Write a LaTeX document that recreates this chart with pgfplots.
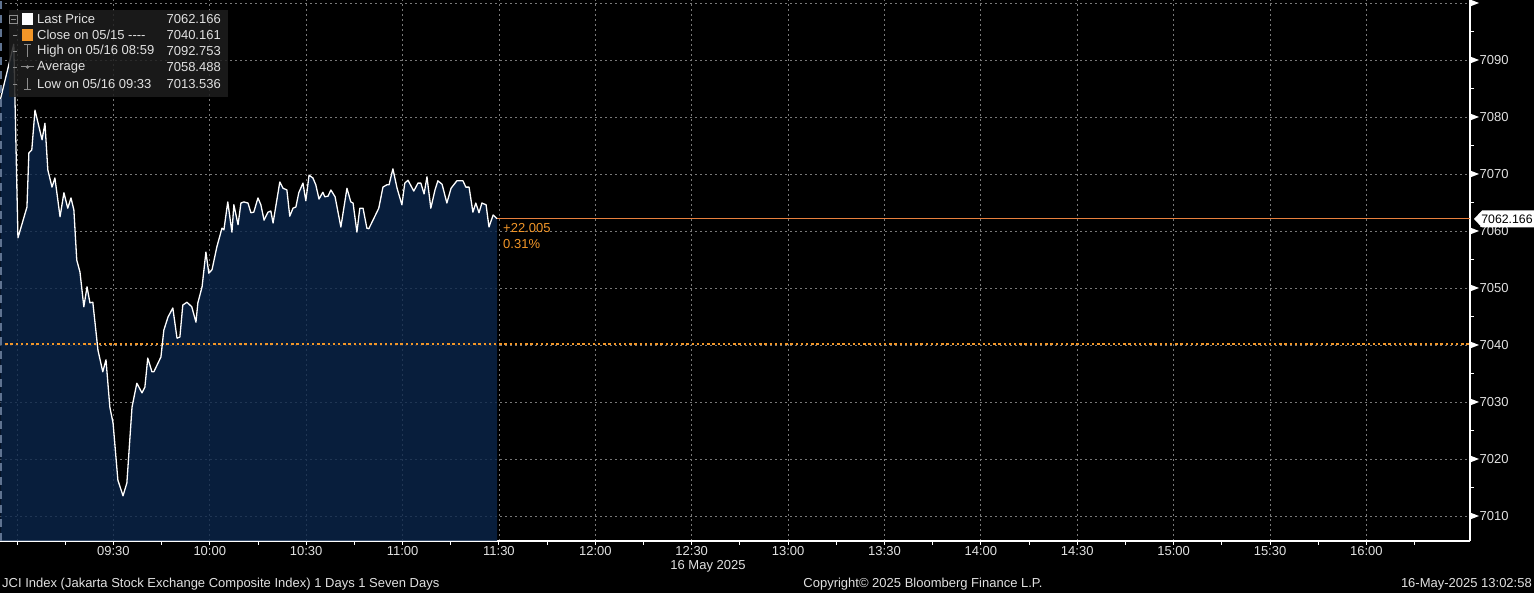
\documentclass[border=0pt]{standalone}
\usepackage{pgfplots}
\pgfplotsset{compat=1.18}
\usepackage{pgfplotstable}
\usepackage{fontspec}
\setmainfont{Liberation Sans}

\definecolor{areanavy}{RGB}{11,38,75}
\definecolor{gridgrey}{RGB}{120,120,120}
\definecolor{closeorange}{RGB}{242,150,40}
\definecolor{lastorange}{RGB}{232,128,62}
\definecolor{legbg}{RGB}{30,30,30}
\definecolor{lightgrey}{RGB}{225,225,225}
\definecolor{icongrey}{RGB}{140,140,140}

% minutes after 09:00, index level
\pgfplotstableread{
t p
-5.2 7083.0
-1.0 7092.75
0.3 7058.8
3.1 7064.2
3.7 7073.7
4.6 7074.2
5.6 7081.2
7.8 7076.0
8.7 7078.9
9.6 7070.7
10.9 7067.7
11.8 7069.3
13.4 7062.5
14.6 7066.7
15.8 7064.0
16.8 7065.8
17.7 7063.7
18.6 7054.9
19.6 7052.8
20.8 7046.7
21.8 7050.2
22.7 7047.4
23.6 7047.5
25.2 7039.1
26.7 7035.3
27.7 7037.4
28.9 7029.1
29.9 7026.3
31.4 7016.3
33.0 7013.54
34.2 7015.8
35.8 7029.1
37.3 7033.3
38.9 7031.6
39.8 7032.6
40.7 7037.7
42.0 7035.3
42.6 7035.3
44.8 7037.9
45.7 7042.6
47.0 7044.9
48.5 7046.5
49.8 7041.2
50.7 7041.4
51.6 7047.0
52.9 7047.5
54.4 7046.7
55.7 7044.0
56.3 7047.4
57.6 7050.2
58.8 7056.3
59.7 7052.6
60.7 7053.2
62.2 7057.2
63.8 7060.5
64.4 7060.2
65.6 7065.1
66.9 7059.8
67.5 7064.6
68.8 7061.1
69.7 7064.9
70.6 7065.1
71.9 7064.9
72.8 7063.2
73.7 7063.3
75.0 7065.8
75.9 7064.6
76.9 7061.9
78.1 7063.3
79.0 7063.5
79.7 7061.4
81.8 7068.6
82.8 7067.5
84.0 7067.2
84.9 7062.6
85.9 7064.0
86.8 7064.2
87.7 7066.7
89.0 7068.4
89.9 7065.3
90.9 7069.8
92.1 7069.3
93.0 7068.1
94.0 7065.6
95.2 7066.8
95.8 7066.0
96.8 7066.1
97.7 7067.2
99.0 7066.0
100.8 7060.7
102.7 7067.5
103.9 7065.1
104.6 7064.9
105.8 7059.8
106.7 7064.0
107.7 7064.0
108.9 7060.5
109.5 7060.4
110.8 7061.9
112.6 7064.0
113.9 7067.7
115.1 7068.1
115.8 7068.1
117.0 7070.9
118.3 7067.5
119.8 7064.6
120.7 7068.4
121.7 7068.9
123.5 7067.0
124.8 7068.4
125.7 7068.4
126.7 7066.5
127.6 7069.5
128.8 7064.0
130.1 7067.2
131.0 7068.8
132.3 7068.2
133.8 7064.9
135.1 7067.5
136.9 7068.8
138.8 7068.8
139.7 7067.7
140.7 7067.7
141.9 7063.3
142.8 7064.9
143.8 7063.2
144.7 7064.9
146.0 7064.6
146.9 7060.7
148.2 7062.8
149.4 7062.166
}\jci

\begin{document}
\begin{tikzpicture}[font=\fontsize{13}{15}\selectfont]
\path[use as bounding box, fill=black] (0pt,-52pt) rectangle (1534pt,541pt);
\begin{axis}[
  at={(0pt,0pt)}, anchor=south west,
  scale only axis, width=1470pt, height=541pt,
  xmin=-5.29, xmax=452.25,
  ymin=7005.614, ymax=7100.526,
  axis x line*=bottom, axis y line*=right,
  axis line style={white, line width=1.3pt},
  xtick={0,30,...,420},
  minor xtick={15,45,...,435},
  xticklabels={,09:30,10:00,10:30,11:00,11:30,12:00,12:30,13:00,13:30,14:00,14:30,15:00,15:30,16:00},
  ytick={7010,7020,...,7100},
  minor ytick={7015,7025,...,7095},
  yticklabels={7010,7020,7030,7040,7050,7060,7070,7080,7090,{}},
  tick align=outside,
  major tick length=4pt, minor tick length=4pt,
  tick style={white, line width=0.9pt},
  xticklabel style={text=lightgrey, inner sep=0pt, yshift=-1.5pt},
  yticklabel style={text=lightgrey, xshift=2pt},
  grid=major,
  major grid style={gridgrey, dash pattern=on 2pt off 3pt, line width=0.8pt},
]
\addplot[draw=none, fill=areanavy, fill opacity=0.8] table[x=t, y=p] {\jci} \closedcycle;
\addplot[closeorange, line width=2.6pt, dash pattern=on 2.4pt off 2.8pt]
  coordinates {(-5.29,7040.161) (452.25,7040.161)};
\addplot[lastorange, line width=0.9pt] coordinates {(149.4,7062.166) (452.25,7062.166)};
\addplot[white, line width=1.3pt, line join=round] table[x=t, y=p] {\jci};
\end{axis}

% left edge marker
\draw[color={rgb,255:red,95;green,115;blue,145}, line width=1.6pt, dash pattern=on 8pt off 6pt] (1pt,0pt) -- (1pt,541pt);

% right axis arrows at major ticks
\foreach \k in {0,...,9}
  \fill[white] (1470pt,25pt+57pt*\k+3.5pt) -- ++(9pt,-3.5pt) -- ++(-9pt,-3.5pt) -- cycle;

% last price tag
\fill[white] (1474pt,322pt) -- (1482pt,330.5pt) -- (1534pt,330.5pt) -- (1534pt,313.5pt) -- (1482pt,313.5pt) -- cycle;
\node[text=black, inner sep=0pt, font=\fontsize{12.3}{14}\selectfont] at (1507pt,322pt) {7062.166};

% change annotation
\node[anchor=west, text=closeorange, inner sep=0pt] at (503pt,313pt) {+22.005};
\node[anchor=west, text=closeorange, inner sep=0pt] at (503pt,297pt) {0.31\%};

% legend panel
\fill[legbg, opacity=0.85] (9pt,531pt) rectangle (228pt,444pt);
\draw[icongrey, line width=0.7pt] (9.5pt,518pt) rectangle (17pt,525.5pt);
\draw[icongrey, line width=0.7pt] (11pt,521.8pt) -- (15.5pt,521.8pt);
\foreach \yy in {506,490,474,457}
  \draw[icongrey, line width=0.7pt] (13pt,\yy pt) -- (17pt,\yy pt);
\fill[white] (22pt,516pt) rectangle (33pt,528pt);
\fill[closeorange] (22pt,500pt) rectangle (33pt,512pt);
\draw[icongrey, line width=1pt] (27.5pt,484pt) -- (27.5pt,496pt) (24pt,496pt) -- (31pt,496pt);
\draw[icongrey, line width=1pt] (21pt,474pt) -- (34pt,474pt);
\fill[icongrey] (27.5pt,474pt) circle (1.8pt);
\draw[icongrey, line width=1pt] (27.5pt,451pt) -- (27.5pt,463pt) (24pt,451pt) -- (31pt,451pt);
\begin{scope}[every node/.style={inner sep=0pt, text=lightgrey}]
  \node[anchor=west] at (37pt,522pt) {Last Price};
  \node[anchor=west] at (37pt,506pt) {Close on 05/15 {-}{-}{-}{-}};
  \node[anchor=west] at (37pt,490pt) {High on 05/16 08:59};
  \node[anchor=west] at (37pt,474pt) {Average};
  \node[anchor=west] at (37pt,457pt) {Low on 05/16 09:33};
  \node[anchor=east] at (221pt,522pt) {7062.166};
  \node[anchor=east] at (221pt,506pt) {7040.161};
  \node[anchor=east] at (221pt,490pt) {7092.753};
  \node[anchor=east] at (221pt,474pt) {7058.488};
  \node[anchor=east] at (221pt,457pt) {7013.536};
\end{scope}

% date and footer
\node[text=lightgrey, inner sep=0pt] at (708pt,-25pt) {16 May 2025};
\node[anchor=west, text=lightgrey, inner sep=0pt] at (2pt,-43pt) {JCI Index (Jakarta Stock Exchange Composite Index) 1 Days 1 Seven Days};
\node[text=lightgrey, inner sep=0pt] at (923pt,-43pt) {Copyright© 2025 Bloomberg Finance L.P.};
\node[anchor=east, text=lightgrey, inner sep=0pt] at (1532pt,-43pt) {16-May-2025 13:02:58};
\end{tikzpicture}
\end{document}
